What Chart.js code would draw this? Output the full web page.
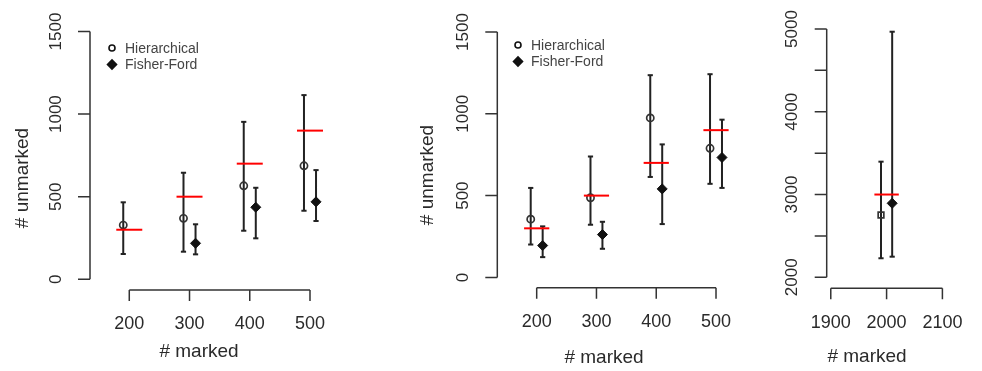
<!DOCTYPE html>
<html>
<head>
<meta charset="utf-8">
<script src="https://cdn.jsdelivr.net/npm/chart.js@4.4.1/dist/chart.umd.min.js"></script>
<style>
  html, body { margin: 0; padding: 0; background: #fff; }
  #wrap { position: relative; width: 982px; height: 371px; }
  #wrap canvas { position: absolute; left: 0; top: 0; }
</style>
</head>
<body>
<div id="wrap">
  <canvas id="p1" width="982" height="371"></canvas>
  <canvas id="p2" width="982" height="371"></canvas>
  <canvas id="p3" width="982" height="371"></canvas>
</div>
<script>
// ---- data ----
const marked1 = [200, 300, 400, 500];
const truth1 = [300, 500, 700, 900];
const hierEst1 = [328, 369, 566, 687];
const hierLo1 = [153, 167, 294, 415];
const hierHi1 = [466, 645, 953, 1115];
const ffEst1 = [null, 218, 436, 469];
const ffLo1 = [null, 151, 248, 353];
const ffHi1 = [null, 333, 554, 661];

const marked2 = [200, 300, 400, 500];
const truth2 = [300, 500, 700, 900];
const hierEst2 = [356, 487, 975, 789];
const hierLo2 = [201, 322, 614, 572];
const hierHi2 = [547, 739, 1236, 1242];
const ffEst2 = [195, 262, 541, 733];
const ffLo2 = [124, 175, 326, 547];
const ffHi2 = [312, 340, 813, 964];

const marked3 = [2000];
const truth3 = [3000];
const hierEst3 = [2753];
const hierLo3 = [2230];
const hierHi3 = [3397];
const ffEst3 = [2894];
const ffLo3 = [2249];
const ffHi3 = [4967];

const xTicks12 = [200, 300, 400, 500];
const yTicks12 = [0, 500, 1000, 1500];
const xTicks3 = [1900, 2000, 2100];
const yTicks3 = [2000, 2500, 3000, 3500, 4000, 4500, 5000];
const yLabels3 = [2000, 3000, 4000, 5000];

const DODGE = 10;
const FONT = '"Liberation Sans", Arial, Helvetica, sans-serif';
const INK = '#2a2a2a';

// R-style detached axes, rotated y labels, titles and legend
const rAxes = {
  id: 'rAxes',
  afterDraw(chart, args, o) {
    const { ctx, chartArea: a, scales: { x, y } } = chart;
    const xs = o.xTicks.map(v => x.getPixelForValue(v));
    const ys = o.yTicks.map(v => y.getPixelForValue(v));
    ctx.save();
    ctx.strokeStyle = '#333';
    ctx.lineWidth = 1.5;
    ctx.beginPath();
    ctx.moveTo(xs[0], a.bottom);
    ctx.lineTo(xs[xs.length - 1], a.bottom);
    xs.forEach(px => { ctx.moveTo(px, a.bottom); ctx.lineTo(px, a.bottom + 11); });
    ctx.moveTo(a.left, ys[0]);
    ctx.lineTo(a.left, ys[ys.length - 1]);
    ys.forEach(py => { ctx.moveTo(a.left, py); ctx.lineTo(a.left - 12, py); });
    ctx.stroke();

    ctx.fillStyle = INK;
    ctx.textAlign = 'center';
    ctx.textBaseline = 'middle';
    ctx.font = '18px ' + FONT;
    o.xTicks.forEach((v, i) => ctx.fillText(String(v), xs[i], a.bottom + 34.5));
    ctx.font = '17px ' + FONT;
    o.yTicks.forEach((v, i) => {
      if (!o.yLabels.includes(v)) return;
      ctx.save();
      ctx.translate(a.left - 34, ys[i]);
      ctx.rotate(-Math.PI / 2);
      ctx.fillText(String(v), 0, 0);
      ctx.restore();
    });

    ctx.font = '19px ' + FONT;
    ctx.fillText('# marked', o.xTitle[0], o.xTitle[1]);
    if (o.yTitle) {
      ctx.save();
      ctx.translate(o.yTitle[0], o.yTitle[1]);
      ctx.rotate(-Math.PI / 2);
      ctx.fillText('# unmarked', 0, 0);
      ctx.restore();
    }

    if (o.legend) {
      const [lx, ly] = o.legend;
      const items = [
        { text: 'Hierarchical', style: 'circle', r: 3, fill: 'rgba(0,0,0,0)' },
        { text: 'Fisher-Ford', style: 'rectRot', r: 4.5, fill: '#111' },
      ];
      ctx.font = '14px ' + FONT;
      ctx.textAlign = 'left';
      items.forEach((it, i) => {
        const py = ly + i * 16.5;
        ctx.strokeStyle = '#111';
        ctx.fillStyle = it.fill;
        ctx.lineWidth = 1.6;
        Chart.helpers.drawPoint(ctx, { pointStyle: it.style, radius: it.r, borderWidth: 1.6, rotation: 0 }, lx, py);
        ctx.fillStyle = '#444';
        ctx.fillText(it.text, lx + 13, py + 1);
      });
    }
    ctx.restore();
  },
};

function points(marked, est, dx) {
  return marked.map((m, i) => ({ x: m + dx, y: est[i] }));
}

function bars(marked, lo, hi, dx) {
  const out = [];
  marked.forEach((m, i) => {
    if (lo[i] == null) return;
    out.push({ x: m + dx, y: lo[i] }, { x: m + dx, y: hi[i] }, { x: m + dx, y: null });
  });
  return out;
}

function errDataset(data) {
  return {
    data, showLine: true, spanGaps: false, tension: 0,
    borderColor: '#222', borderWidth: 2,
    pointStyle: 'line', pointRadius: 2.6, pointBorderWidth: 2,
    pointBorderColor: '#222', pointBackgroundColor: '#222',
    clip: false, order: 2,
  };
}

function panel(id, d, opt) {
  const datasets = [
    {
      label: 'truth', data: points(d.marked, d.truth, 0), showLine: false,
      pointStyle: 'line', pointRadius: opt.redHalf, pointBorderWidth: 2,
      pointBorderColor: '#ff0000', borderColor: '#ff0000', clip: false, order: 0,
    },
    {
      label: 'Hierarchical', data: points(d.marked, d.hier, -DODGE), showLine: false,
      pointStyle: opt.hierStyle, pointRadius: opt.hierStyle === 'rect' ? 4 : 3.6,
      pointBorderWidth: 1.7, pointBorderColor: '#333', pointBackgroundColor: 'rgba(0,0,0,0)',
      clip: false, order: 1,
    },
    {
      label: 'Fisher-Ford', data: points(d.marked, d.ff, DODGE), showLine: false,
      pointStyle: 'rectRot', pointRadius: 5, pointBorderWidth: 1,
      pointBorderColor: '#111', pointBackgroundColor: '#111', clip: false, order: 1,
    },
    errDataset(bars(d.marked, d.hierLo, d.hierHi, -DODGE)),
    errDataset(bars(d.marked, d.ffLo, d.ffHi, DODGE)),
  ];
  const a = opt.area;
  return new Chart(document.getElementById(id), {
    type: 'line',
    data: { datasets },
    options: {
      responsive: false,
      animation: false,
      events: [],
      layout: { padding: { left: a[0], right: 982 - a[1], top: a[2], bottom: 371 - a[3] } },
      plugins: {
        legend: { display: false },
        tooltip: { enabled: false },
        rAxes: opt.axes,
      },
      scales: {
        x: { type: 'linear', display: false, min: opt.x[0], max: opt.x[1] },
        y: { type: 'linear', display: false, min: opt.y[0], max: opt.y[1] },
      },
    },
    plugins: [rAxes],
  });
}

panel('p1',
  { marked: marked1, truth: truth1, hier: hierEst1, hierLo: hierLo1, hierHi: hierHi1, ff: ffEst1, ffLo: ffLo1, ffHi: ffHi1 },
  {
    area: [90, 330, 20, 290], x: [134.8, 533.2], y: [-64.8, 1569.6],
    redHalf: 13, hierStyle: 'circle',
    axes: { xTicks: xTicks12, yTicks: yTicks12, yLabels: yTicks12, xTitle: [199, 352], yTitle: [23, 178], legend: [112, 48] },
  });

panel('p2',
  { marked: marked2, truth: truth2, hier: hierEst2, hierLo: hierLo2, hierHi: hierHi2, ff: ffEst2, ffLo: ffLo2, ffHi: ffHi2 },
  {
    area: [497.3, 745, 20, 287.7], x: [134.1, 548.5], y: [-62.8, 1573.2],
    redHalf: 12.6, hierStyle: 'circle',
    axes: { xTicks: xTicks12, yTicks: yTicks12, yLabels: yTicks12, xTitle: [604, 358], yTitle: [428, 175], legend: [518, 45] },
  });

panel('p3',
  { marked: marked3, truth: truth3, hier: hierEst3, hierLo: hierLo3, hierHi: hierHi3, ff: ffEst3, ffLo: ffLo3, ffHi: ffHi3 },
  {
    area: [826.7, 975, 20, 288.3], x: [1892.7, 2145.5], y: [1867.1, 5108.6],
    redHalf: 12.2, hierStyle: 'rect',
    axes: { xTicks: xTicks3, yTicks: yTicks3, yLabels: yLabels3, xTitle: [867, 357], yTitle: null, legend: null },
  });
</script>
</body>
</html>
